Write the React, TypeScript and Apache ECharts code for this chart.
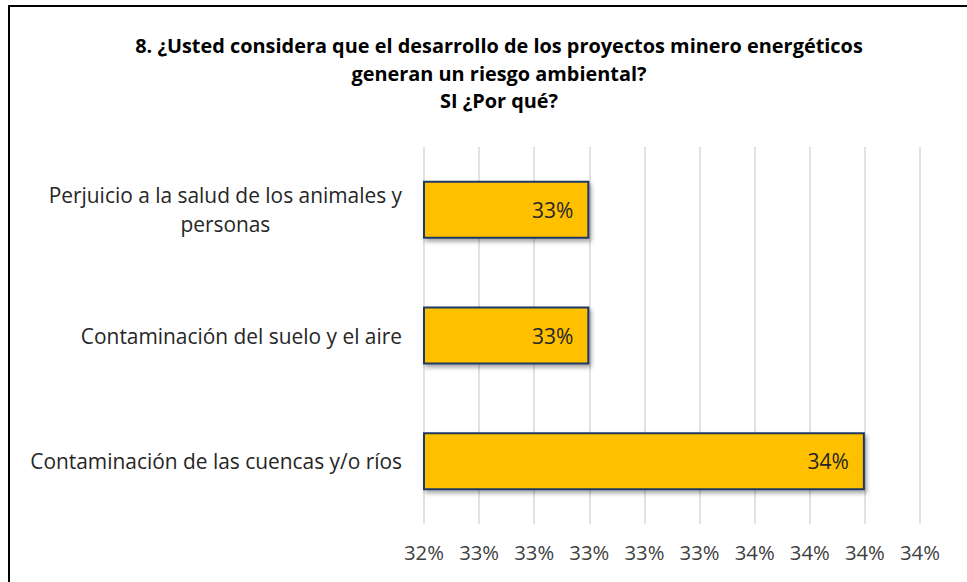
import React, { useEffect, useRef } from "react";
import * as echarts from "echarts";

const titleLines = [
  "8. ¿Usted considera que el desarrollo de los proyectos minero energéticos",
  "generan un riesgo ambiental?",
  "SI ¿Por qué?",
];
const categories = [
  "Perjuicio a la salud de los animales y\npersonas",
  "Contaminación del suelo y el aire",
  "Contaminación de las cuencas y/o ríos",
];
const values = [33, 33, 34];
const axisMin = 32.4;
const axisMax = 34.2;
const axisInterval = 0.2;

const FONT = "'Open Sans', 'Noto Sans', sans-serif";

export default function App() {
  const ref = useRef<HTMLDivElement>(null);
  useEffect(() => {
    document.body.style.margin = "0";
    const chart = echarts.init(ref.current!, null, { renderer: "svg" });
    chart.setOption({
      animation: false,
      backgroundColor: "#ffffff",
      title: {
        text: titleLines.join("\n"),
        left: 494,
        top: 27,
        textAlign: "center",
        textStyle: {
          fontFamily: FONT,
          fontSize: 19.9,
          fontWeight: "bold",
          color: "#000000",
          lineHeight: 27.5,
        },
      },
      graphic: [
        { type: "line", shape: { x1: 8, y1: 6, x2: 967, y2: 6 }, style: { stroke: "#000", lineWidth: 2 } },
        { type: "line", shape: { x1: 9, y1: 5, x2: 9, y2: 582 }, style: { stroke: "#000", lineWidth: 2 } },
      ],
      grid: { left: 424, right: 47, top: 147, bottom: 58, containLabel: false },
      xAxis: {
        type: "value",
        min: axisMin,
        max: axisMax,
        interval: axisInterval,
        axisLine: { show: false },
        axisTick: { show: false },
        splitLine: { lineStyle: { color: "#d9d9d9", width: 1.5 } },
        axisLabel: {
          formatter: (v: number) => Math.round(v) + "%",
          fontFamily: FONT,
          fontSize: 20.3,
          color: "#404040",
          margin: 18,
        },
      },
      yAxis: {
        type: "category",
        inverse: true,
        data: categories,
        axisLine: { show: false },
        axisTick: { show: false },
        axisLabel: {
          margin: 22,
          fontFamily: FONT,
          fontSize: 20.9,
          color: "#262626",
          formatter: (v: string) =>
            v
              .split("\n")
              .map((l) => "{c|" + l + "}")
              .join("\n"),
          rich: {
            c: {
              align: "center",
              fontFamily: FONT,
              fontSize: 20.9,
              color: "#262626",
              lineHeight: 29,
            },
          },
        },
      },
      series: [
        {
          type: "bar",
          data: values,
          barWidth: 58,
          itemStyle: {
            color: "#FFC000",
            borderColor: "#1F3864",
            borderWidth: 2,
            shadowColor: "rgba(0,0,0,0.35)",
            shadowBlur: 4,
            shadowOffsetX: 2,
            shadowOffsetY: 3,
          },
          label: {
            show: true,
            position: "insideRight",
            distance: 16,
            formatter: (p: any) => Math.round(p.value) + "%",
            fontFamily: FONT,
            fontSize: 21,
            color: "#262626",
          },
        },
      ],
    });
    return () => chart.dispose();
  }, []);
  return <div ref={ref} style={{ width: 967, height: 582 }} />;
}
